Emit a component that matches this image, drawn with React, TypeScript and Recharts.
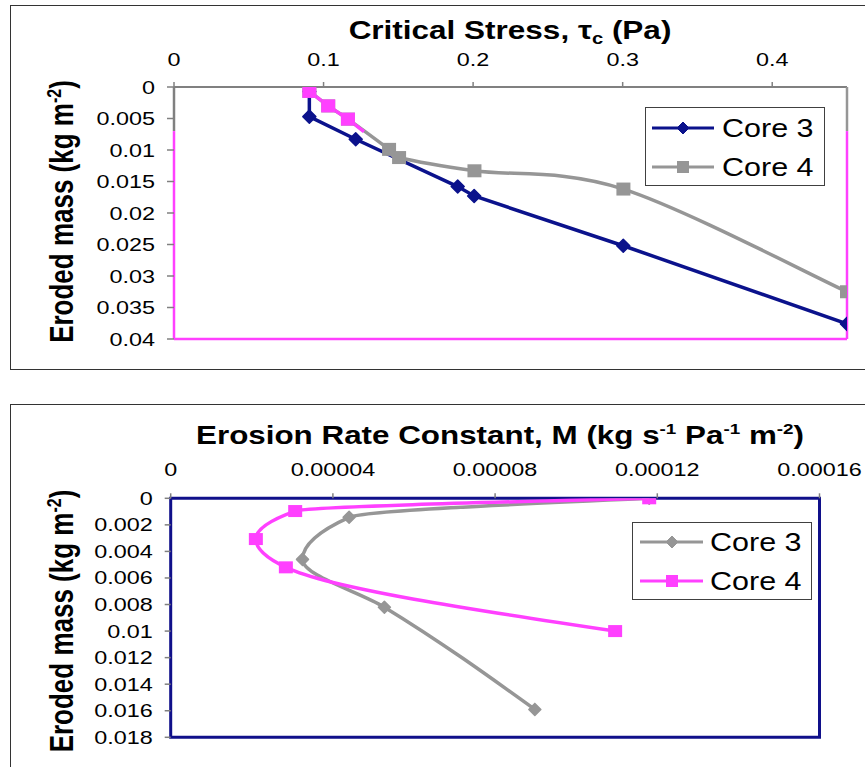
import React from 'react';
import { LineChart, Line, XAxis, YAxis, ReferenceLine, ReferenceArea, Legend } from 'recharts';

const FONT = '"Liberation Sans", Arial, sans-serif';
const NAVY = '#0B128C';
const GRAY = '#969696';
const MAGENTA = '#FF40FF';
const AXIS_GRAY = '#808080';
const BORDER_NAVY = '#10108A';

// ---------- Top chart: Critical Stress ----------
const stressTicks = [0, 0.1, 0.2, 0.3, 0.4];
const stressMax = 0.45;
const massTicksTop = [0, 0.005, 0.01, 0.015, 0.02, 0.025, 0.03, 0.035, 0.04];
const massMaxTop = 0.04;

const core3Stress = [0.0905, 0.0905, 0.1215, 0.1897, 0.2007, 0.3004, 0.45];
const core3MassTop = [0.0007, 0.0047, 0.0083, 0.0158, 0.0173, 0.0252, 0.0376];

const core4Stress = [0.0905, 0.1031, 0.1163, 0.1438, 0.1505, 0.2009, 0.3005, 0.45];
const core4MassTop = [0.0007, 0.003, 0.0051, 0.0099, 0.0112, 0.0133, 0.0162, 0.0325];

// magenta overlay on the first Core 4 points (as drawn in the original)
const overlayStress = [0.0905, 0.1031, 0.1163, 0.127];
const overlayMass = [0.0007, 0.003, 0.0051, 0.0071];

// ---------- Bottom chart: Erosion Rate Constant ----------
const rateTicks = [0, 0.00004, 0.00008, 0.00012, 0.00016];
const rateMax = 0.00016;
const massTicksBot = [0, 0.002, 0.004, 0.006, 0.008, 0.01, 0.012, 0.014, 0.016, 0.018];
const massMaxBot = 0.018;

const core3Rate = [0.000118, 0.000044, 0.0000325, 0.0000527, 0.0000898];
const core3MassBot = [0, 0.00143, 0.0046, 0.0082, 0.0159];

const core4Rate = [0.000118, 0.0000307, 0.000021, 0.0000284, 0.0001096];
const core4MassBot = [0, 0.00096, 0.00307, 0.0052, 0.01];

const seriesNames = ['Core 3', 'Core 4'];

const toPoints = (xs: number[], ys: number[]) => xs.map((x, i) => ({ x, y: ys[i] }));

// Excel-like smoothed line (Catmull-Rom Bezier in screen space)
const excelSmooth = (context: any) => {
  let pts: number[][] = [];
  return {
    areaStart() {},
    areaEnd() {},
    lineStart() {
      pts = [];
    },
    point(x: number, y: number) {
      pts.push([+x, +y]);
    },
    lineEnd() {
      const n = pts.length;
      if (!n) return;
      context.moveTo(pts[0][0], pts[0][1]);
      for (let i = 0; i < n - 1; i++) {
        const p0 = pts[i - 1] || pts[i];
        const p1 = pts[i];
        const p2 = pts[i + 1];
        const p3 = pts[i + 2] || pts[i + 1];
        context.bezierCurveTo(
          p1[0] + (p2[0] - p0[0]) / 6,
          p1[1] + (p2[1] - p0[1]) / 6,
          p2[0] - (p3[0] - p1[0]) / 6,
          p2[1] - (p3[1] - p1[1]) / 6,
          p2[0],
          p2[1]
        );
      }
    },
  };
};

const TICK_SX = 1.3;

const TickX = (props: any) => {
  const { x, y, payload } = props;
  return (
    <text transform={`translate(${x},${y}) scale(${TICK_SX},1)`} textAnchor="middle" fontFamily={FONT} fontSize={18} fill="#000">
      {String(payload.value)}
    </text>
  );
};

const TickY = (props: any) => {
  const { x, y, payload } = props;
  return (
    <text transform={`translate(${x},${y}) scale(${TICK_SX},1)`} textAnchor="end" dy={6.5} fontFamily={FONT} fontSize={18} fill="#000">
      {String(payload.value)}
    </text>
  );
};

const diamondDot = (color: string, r: number, skip: number[] = []) => (p: any) => {
  if (p.cx == null || p.cy == null || skip.includes(p.index)) return <g key={`e${p.index}`} />;
  return (
    <path
      key={`d${p.index}`}
      d={`M${p.cx},${p.cy - r} L${p.cx + r},${p.cy} L${p.cx},${p.cy + r} L${p.cx - r},${p.cy} Z`}
      fill={color}
      stroke={color}
      strokeWidth={1.5}
      strokeLinejoin="round"
    />
  );
};

const squareDot = (color: string, w: number, h: number, skip: number[] = []) => (p: any) => {
  if (p.cx == null || p.cy == null || skip.includes(p.index)) return <g key={`e${p.index}`} />;
  return <rect key={`s${p.index}`} x={p.cx - w / 2} y={p.cy - h / 2} width={w} height={h} fill={color} />;
};

type LegendItem = { name: string; color: string; marker: 'diamond' | 'square' };

const LegendBox = ({ items, w, h, rowsY, x1, x2, mx, tx }: { items: LegendItem[]; w: number; h: number; rowsY: number[]; x1: number; x2: number; mx: number; tx: number }) => (
  <svg width={w} height={h} style={{ display: 'block' }}>
    <rect x={0.5} y={0.5} width={w - 1} height={h - 1} fill="#fff" stroke="#404040" strokeWidth={1} />
    {items.map((it, i) => {
      const y = rowsY[i];
      return (
        <g key={it.name}>
          <line x1={x1} x2={x2} y1={y} y2={y} stroke={it.color} strokeWidth={3} />
          {it.marker === 'diamond' ? (
            <path d={`M${mx},${y - 6} L${mx + 6},${y} L${mx},${y + 6} L${mx - 6},${y} Z`} fill={it.color} stroke={it.color} strokeWidth={1} />
          ) : (
            <rect x={mx - 6} y={y - 6} width={12} height={12} fill={it.color} />
          )}
          <text transform={`translate(${tx},${y + 9}) scale(1.22,1)`} fontFamily={FONT} fontSize={25} fill="#000">
            {it.name}
          </text>
        </g>
      );
    })}
  </svg>
);

const topLegendItems: LegendItem[] = [
  { name: seriesNames[0], color: NAVY, marker: 'diamond' },
  { name: seriesNames[1], color: GRAY, marker: 'square' },
];
const botLegendItems: LegendItem[] = [
  { name: seriesNames[0], color: GRAY, marker: 'diamond' },
  { name: seriesNames[1], color: MAGENTA, marker: 'square' },
];

export default function App() {
  const core3Top = toPoints(core3Stress, core3MassTop);
  const core4Top = toPoints(core4Stress, core4MassTop);
  const overlayTop = toPoints(overlayStress, overlayMass);
  const core3Bot = toPoints(core3Rate, core3MassBot);
  const core4Bot = toPoints(core4Rate, core4MassBot);

  return (
    <div style={{ position: 'absolute', left: 0, top: 0, width: 865, height: 767, overflow: 'hidden', background: '#fff' }}>
      {/* outer frames */}
      <div style={{ position: 'absolute', left: 10, top: 5, width: 880, height: 365, border: '1px solid #333', boxSizing: 'border-box' }} />
      <div style={{ position: 'absolute', left: 10, top: 404, width: 880, height: 420, border: '1px solid #333', boxSizing: 'border-box' }} />

      {/* top chart */}
      <div style={{ position: 'absolute', left: 0, top: 0 }}>
        <LineChart width={865} height={370} layout="vertical" margin={{ top: 47, left: 74, right: 18, bottom: 31 }}>
          <XAxis
            type="number"
            orientation="top"
            domain={[0, stressMax]}
            ticks={stressTicks}
            height={40}
            axisLine={false}
            tickLine={{ stroke: AXIS_GRAY, strokeWidth: 1.5 }}
            tickSize={5}
            tickMargin={16}
            tick={<TickX />}
            allowDataOverflow
          />
          <YAxis
            type="number"
            dataKey="y"
            domain={[0, massMaxTop]}
            ticks={massTicksTop}
            width={100}
            axisLine={false}
            tickLine={{ stroke: AXIS_GRAY, strokeWidth: 1.5 }}
            tickSize={7}
            tickMargin={12}
            tick={<TickY />}
            allowDataOverflow
          />
          <ReferenceLine segment={[{ x: 0, y: 0 }, { x: stressMax, y: 0 }]} stroke={AXIS_GRAY} strokeWidth={2} ifOverflow="visible" />
          <ReferenceLine segment={[{ x: 0, y: 0 }, { x: 0, y: 0.007 }]} stroke={AXIS_GRAY} strokeWidth={2.5} ifOverflow="visible" />
          <ReferenceLine segment={[{ x: stressMax, y: 0 }, { x: stressMax, y: 0.007 }]} stroke={GRAY} strokeWidth={2.5} ifOverflow="visible" />
          <ReferenceLine segment={[{ x: 0, y: 0.007 }, { x: 0, y: massMaxTop }]} stroke={MAGENTA} strokeWidth={2.5} ifOverflow="visible" />
          <ReferenceLine segment={[{ x: 0, y: massMaxTop }, { x: stressMax, y: massMaxTop }]} stroke={MAGENTA} strokeWidth={2.5} ifOverflow="visible" />
          <ReferenceLine segment={[{ x: stressMax, y: 0.007 }, { x: stressMax, y: massMaxTop }]} stroke={MAGENTA} strokeWidth={2.5} ifOverflow="visible" />
          <Line data={core3Top} dataKey="x" name={seriesNames[0]} type="linear" stroke={NAVY} strokeWidth={3.5} dot={diamondDot(NAVY, 6.5)} isAnimationActive={false} />
          <Line data={core4Top} dataKey="x" name={seriesNames[1]} type={excelSmooth as any} stroke={GRAY} strokeWidth={3.5} dot={squareDot(GRAY, 14, 13)} isAnimationActive={false} />
          <Line data={overlayTop} dataKey="x" name="overlay" type="linear" stroke={MAGENTA} strokeWidth={3.5} dot={squareDot(MAGENTA, 14, 13, [3])} legendType="none" isAnimationActive={false} />
          <Legend
            layout="horizontal"
            verticalAlign="middle"
            align="center"
            wrapperStyle={{ position: 'absolute', left: 645, top: 107, width: 180, height: 79 }}
            content={() => <LegendBox items={topLegendItems} w={180} h={79} rowsY={[21, 60]} x1={7} x2={69} mx={38} tx={77} />}
          />
        </LineChart>
      </div>

      {/* bottom chart */}
      <div style={{ position: 'absolute', left: 0, top: 380 }}>
        <LineChart width={865} height={387} layout="vertical" margin={{ top: 78.3, left: 70.7, right: 45.5, bottom: 29.7 }}>
          <XAxis
            type="number"
            orientation="top"
            domain={[0, rateMax]}
            ticks={rateTicks}
            height={40}
            axisLine={false}
            tickLine={{ stroke: AXIS_GRAY, strokeWidth: 1.5 }}
            tickSize={5}
            tickMargin={17}
            tick={<TickX />}
            allowDataOverflow
          />
          <YAxis
            type="number"
            dataKey="y"
            domain={[0, massMaxBot]}
            ticks={massTicksBot}
            width={100}
            axisLine={false}
            tickLine={{ stroke: AXIS_GRAY, strokeWidth: 1.5 }}
            tickSize={6}
            tickMargin={12}
            tick={<TickY />}
            allowDataOverflow
          />
          <ReferenceArea x1={0} x2={rateMax} y1={0} y2={massMaxBot} fill="none" fillOpacity={0} stroke={BORDER_NAVY} strokeWidth={3} ifOverflow="visible" />
          <Line data={core3Bot} dataKey="x" name={seriesNames[0]} type="monotone" stroke={GRAY} strokeWidth={3.5} dot={diamondDot(GRAY, 6)} isAnimationActive={false} />
          <Line data={core4Bot} dataKey="x" name={seriesNames[1]} type="monotone" stroke={MAGENTA} strokeWidth={3.5} dot={squareDot(MAGENTA, 14, 12)} isAnimationActive={false} />
          <Legend
            layout="horizontal"
            verticalAlign="middle"
            align="center"
            wrapperStyle={{ position: 'absolute', left: 632, top: 142, width: 180, height: 78 }}
            content={() => <LegendBox items={botLegendItems} w={180} h={78} rowsY={[20, 59]} x1={8} x2={71} mx={40} tx={78} />}
          />
        </LineChart>
      </div>

      {/* titles and axis labels */}
      <svg width={865} height={767} style={{ position: 'absolute', left: 0, top: 0, pointerEvents: 'none' }}>
        <text transform="translate(510,39) scale(1.26,1)" textAnchor="middle" fontFamily={FONT} fontWeight="bold" fontSize={25} fill="#000">
          Critical Stress, τ<tspan fontSize={16} dy={5}>c</tspan>
          <tspan dy={-5}> (Pa)</tspan>
        </text>
        <text transform="translate(500,444) scale(1.255,1)" textAnchor="middle" fontFamily={FONT} fontWeight="bold" fontSize={25} fill="#000">
          Erosion Rate Constant, M (kg s<tspan fontSize={15} dy={-10}>-1</tspan>
          <tspan dy={10}> Pa</tspan>
          <tspan fontSize={15} dy={-10}>-1</tspan>
          <tspan dy={10}> m</tspan>
          <tspan fontSize={15} dy={-10}>-2</tspan>
          <tspan dy={10}>)</tspan>
        </text>
        <text transform="translate(73,211.5) scale(1.25,1) rotate(-90)" textAnchor="middle" fontFamily={FONT} fontWeight="bold" fontSize={26} fill="#000">
          Eroded mass (kg m<tspan fontSize={16} dy={-10}>-2</tspan>
          <tspan dy={10}>)</tspan>
        </text>
        <text transform="translate(73,621) scale(1.25,1) rotate(-90)" textAnchor="middle" fontFamily={FONT} fontWeight="bold" fontSize={26} fill="#000">
          Eroded mass (kg m<tspan fontSize={16} dy={-10}>-2</tspan>
          <tspan dy={10}>)</tspan>
        </text>
      </svg>
    </div>
  );
}
